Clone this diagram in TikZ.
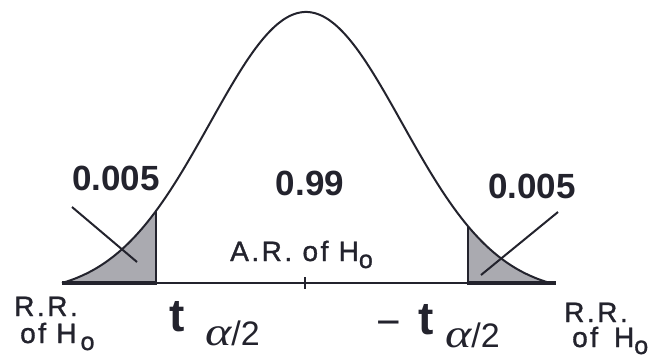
\documentclass[tikz,border=0pt]{standalone}
\usepackage{fontspec}
\setmainfont{Liberation Sans}
\newfontfamily\lblfont[LetterSpace=9,FakeBold=1.2]{Liberation Sans}
\newfontfamily\grkfont{Liberation Serif}
\definecolor{ink}{RGB}{35,35,45}
\definecolor{shadegray}{RGB}{170,170,176}
\newcommand{\subsc}[1]{\raisebox{-7pt}{\fontsize{25}{27}\selectfont #1}}
\newcommand{\alphatwo}{\scalebox{1.25}[1]{\grkfont\itshape\fontsize{40}{42}\selectfont α}/2}
\begin{document}
\begin{tikzpicture}[x=1pt,y=-1pt,
  declare function={gy(\t)=283-271*(exp(-0.5*(\t/96)^2)-0.0396)/0.9604;},
  curve/.style={draw=ink,line width=2pt,line join=round},
  thinline/.style={draw=ink,line width=1.3pt},
  thickline/.style={draw=ink,line width=3.5pt},
  leader/.style={draw=ink,line width=2pt},
  prob/.style={inner sep=0pt,text=ink,font=\bfseries\fontsize{35}{38}\selectfont},
  region/.style={inner sep=0pt,text=ink,align=left,font=\lblfont\fontsize{28}{30}\selectfont},
  tsym/.style={inner sep=0pt,text=ink,font=\bfseries\fontsize{46}{48}\selectfont},
  tsub/.style={inner sep=0pt,text=ink,font=\fontsize{34}{36}\selectfont},
  minus/.style={inner sep=0pt,text=ink,font=\fontsize{42}{44}\selectfont}
]
\useasboundingbox (0,0) rectangle (657,354);
% shaded tails
\fill[shadegray] (62,283) -- plot[domain=-244:-150,samples=40,variable=\t] ({306+\t},{gy(\t)}) -- (156,283) -- cycle;
\fill[shadegray] (468,283) -- plot[domain=162:244,samples=40,variable=\t] ({306+\t},{gy(\t)}) -- cycle;
% curve
\draw[curve] plot[domain=-244:244,samples=200,variable=\t] ({306+\t},{gy(\t)});
% coordinates
\coordinate (L0) at (62,283);
\coordinate (L1) at (157,283);
\coordinate (R0) at (467,283);
\coordinate (R1) at (556,283);
\coordinate (Ltop) at (156,{gy(-150)});
\coordinate (Lbot) at (156,283);
\coordinate (Rtop) at (468,{gy(162)});
\coordinate (Rbot) at (468,283);
\coordinate (tickA) at (305,277);
\coordinate (tickB) at (305,289);
\draw[thinline] (Ltop) -- (Lbot);
\draw[thinline] (Rtop) -- (Rbot);
% axis
\draw[thinline] (L1) -- (R0);
\draw[thickline] (L0) -- (L1);
\draw[thickline] (R0) -- (R1);
\draw[line width=1.5pt,draw=ink] (tickA) -- (tickB);
% leader lines
\coordinate (la) at (72,207);
\coordinate (lb) at (137,262);
\coordinate (ra) at (558,212);
\coordinate (rb) at (481,275);
\draw[leader] (la) -- (lb);
\draw[leader] (ra) -- (rb);
% probabilities
\node[prob,anchor=base east] (pl) at (160,190) {0.005};
\node[prob,anchor=base] (pm) at (310,195) {0.99};
\node[prob,anchor=base west] (pr) at (488,198) {0.005};
% acceptance region
\node[region,anchor=base west] (ar) at (230,261) {A.R. of H\subsc{o}};
% rejection regions
\node[region,anchor=base west] (rrl1) at (14,316) {R.R.};
\node[region,anchor=base west] (rrl2) at (20,343) {of H\hspace{4pt}\subsc{o}};
\node[region,anchor=base west] (rrr1) at (564,322) {R.R.};
\node[region,anchor=base west] (rrr2) at (572,347) {of\hspace{16pt}H\subsc{o}};
% critical values
\node[tsym,anchor=base west] (tl) at (169,331) {t};
\node[tsub,anchor=base west] (al) at (205,345) {\alphatwo};
\node[minus,anchor=base west] (mr) at (376,336) {−};
\node[tsym,anchor=base west] (tr) at (418,334) {t};
\node[tsub,anchor=base west] (ar2) at (445,347) {\alphatwo};
\end{tikzpicture}
\end{document}
